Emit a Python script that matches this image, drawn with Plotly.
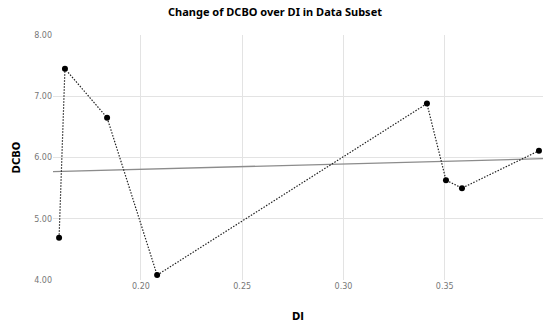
import plotly.graph_objects as go

# Data
di = [0.1596, 0.1625, 0.1833, 0.2080, 0.3412, 0.3506, 0.3585, 0.3965]
dcbo = [4.69, 7.45, 6.65, 4.08, 6.88, 5.63, 5.50, 6.11]

trend_x = [0.1566, 0.3985]
trend_y = [5.77, 5.98]

x_ticks = [0.20, 0.25, 0.30, 0.35]
y_ticks = [4.0, 5.0, 6.0, 7.0, 8.0]

fig = go.Figure()
fig.add_trace(go.Scatter(
    x=trend_x, y=trend_y, mode="lines",
    line=dict(color="#8c8c8c", width=1.3),
    showlegend=False, hoverinfo="skip"))
fig.add_trace(go.Scatter(
    x=di, y=dcbo, mode="lines+markers",
    line=dict(color="#222222", width=1.2, dash="1.5px,1.5px"),
    marker=dict(color="black", size=6),
    showlegend=False, cliponaxis=False))

tick_font = dict(family="DejaVu Sans", size=8, color="#777777")
fig.update_layout(
    width=550, height=324,
    paper_bgcolor="white", plot_bgcolor="white",
    margin=dict(l=53, r=7, t=35, b=44, autoexpand=False),
    title=dict(text="<b>Change of DCBO over DI in Data Subset</b>",
               x=0.5, xanchor="center", y=0.963, yanchor="middle",
               automargin=False,
               font=dict(family="Noto Sans", size=11, color="black")),
    xaxis=dict(range=[0.1566, 0.3985], tickvals=x_ticks,
               ticktext=[f"{v:.2f}" for v in x_ticks],
               showgrid=True, gridcolor="#e3e3e3", gridwidth=1,
               zeroline=False, showline=False, ticks="", automargin=False,
               tickfont=tick_font,
               title=dict(text="<b>DI</b>", standoff=22,
                          font=dict(family="DejaVu Sans", size=10, color="black"))),
    yaxis=dict(range=[4.0, 8.0], tickvals=y_ticks,
               ticktext=[f"{v:.2f}" for v in y_ticks],
               showgrid=True, gridcolor="#e3e3e3", gridwidth=1,
               zeroline=False, showline=False, ticks="", automargin=False,
               tickfont=tick_font,
               title=dict(text="<b>DCBO</b>", standoff=11,
                          font=dict(family="DejaVu Sans", size=10, color="black"))),
)

fig.write_html("out.html", config={"displayModeBar": False},
               post_script="document.body.style.margin='0px';")
